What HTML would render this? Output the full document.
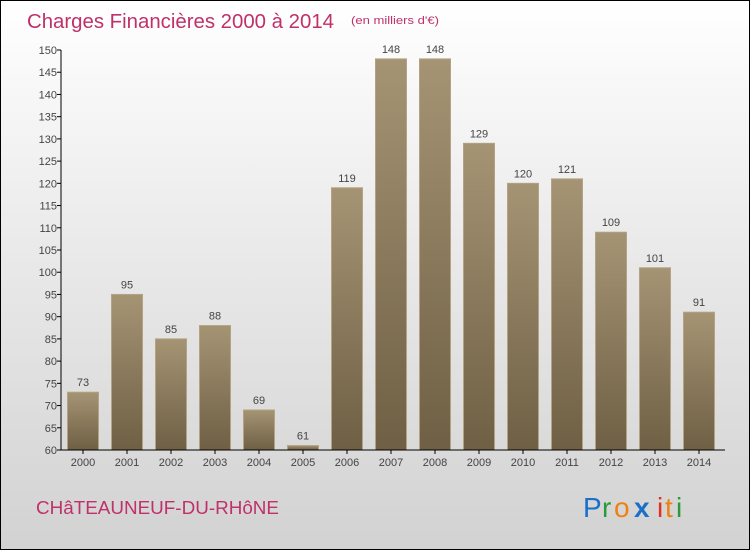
<!DOCTYPE html>
<html><head><meta charset="utf-8"><style>
html,body{margin:0;padding:0}
body{width:750px;height:550px;overflow:hidden;font-family:"Liberation Sans",sans-serif}
#wrap{position:relative;width:748px;height:548px;border:1px solid #000;background:linear-gradient(#ffffff 0%,#ececec 40%,#d2d2d2 100%)}
</style></head><body>
<div id="wrap">
<svg id="svg" width="748" height="548" xmlns="http://www.w3.org/2000/svg">
<defs><linearGradient id="bg" x1="0" y1="0" x2="0" y2="1"><stop offset="0" stop-color="#a59474"/><stop offset="1" stop-color="#6f5f44"/></linearGradient></defs>
<text x="26" y="27" font-size="20" textLength="307" lengthAdjust="spacingAndGlyphs" fill="#c0306a">Charges Financières 2000 à 2014</text>
<text x="350" y="23" font-size="11" textLength="88" lengthAdjust="spacingAndGlyphs" fill="#c0306a">(en milliers d'€)</text>
<text x="35" y="513" font-size="18" textLength="243" lengthAdjust="spacingAndGlyphs" fill="#c0306a">CHâTEAUNEUF-DU-RHôNE</text>
<g font-size="28" font-family="'Liberation Sans',sans-serif">
<text x="582" y="516" fill="#1a6fc8">P</text><text x="601" y="516" fill="#2a9a3a">r</text><text x="613" y="516" fill="#f08010">o</text><text x="633" y="516" fill="#1a6fc8" font-weight="bold">x</text><text x="656" y="516" fill="#e03020">i</text><text x="664" y="516" fill="#f08010">t</text><text x="675" y="516" fill="#2a9a3a">i</text>
</g>
<g id="plot"></g>
</svg>
</div>
<script>
const years=["2000","2001","2002","2003","2004","2005","2006","2007","2008","2009","2010","2011","2012","2013","2014"];
const values=[73,95,85,88,69,61,119,148,148,129,120,121,109,101,91];
const ticks=[60,65,70,75,80,85,90,95,100,105,110,115,120,125,130,135,140,145,150];
const NS="http://www.w3.org/2000/svg";
const g=document.getElementById('plot');
const yMin=60,yMax=150,yTop=49,yBot=449;
const y=v=>yBot-(v-yMin)/(yMax-yMin)*(yBot-yTop);
const x0=60,step=44,bw=31;
const xc=i=>x0+22+step*i;
function mk(t,a){const e=document.createElementNS(NS,t);for(const k in a)e.setAttribute(k,a[k]);g.appendChild(e);return e;}
values.forEach((v,i)=>{
 const r=mk('rect',{x:xc(i)-bw/2,y:y(v),width:bw,height:yBot-y(v),fill:'url(#bg)',stroke:'#b3a383','stroke-width':1});
 
 
 const t=mk('text',{x:xc(i),y:y(v)-6,'text-anchor':'middle','font-size':11,fill:'#444'});
 t.textContent=v;
 
 
 const l=mk('text',{x:xc(i),y:yBot+16,'text-anchor':'middle','font-size':11,fill:'#444'});
 l.textContent=years[i];
 
 
 mk('line',{x1:xc(i),x2:xc(i),y1:yBot,y2:yBot+4,stroke:'#000'});
});
ticks.forEach(v=>{
 mk('line',{x1:x0-4,x2:x0,y1:y(v),y2:y(v),stroke:'#000'});
 const t=mk('text',{x:x0-4,y:y(v)+4,'text-anchor':'end','font-size':11,fill:'#444'});
 t.textContent=v;
 
 
});
const ya=mk('line',{x1:x0,x2:x0,y1:yTop,y2:yBot,stroke:'#000'});


const xa=mk('line',{x1:x0,x2:x0+step*15+4,y1:yBot,y2:yBot,stroke:'#000'});


</script>
</body></html>
